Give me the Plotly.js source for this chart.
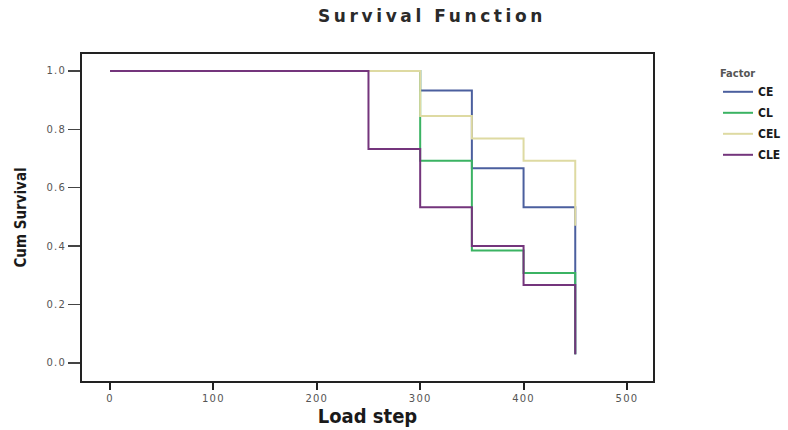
<!DOCTYPE html>
<html>
<head>
<meta charset="utf-8">
<script src="https://cdn.plot.ly/plotly-3.0.1.min.js"></script>
<style>
  html, body { margin: 0; padding: 0; background: #fff; }
  #chart { width: 788px; height: 430px; }
  .gtitle { letter-spacing: 3.6px; }
  .xtick text, .ytick text { letter-spacing: 1.2px; }
  .g-xtitle text, .g-ytitle text, .legendtext { font-stretch: condensed; }
</style>
</head>
<body>
<div id="chart"></div>
<script>
// Load steps at which survival changes
const loadSteps = [0, 250, 300, 350, 400, 450];
// Cumulative survival per factor
const seriesNames = ["CE", "CL", "CEL", "CLE"];
const survCE  = [1, 1, 0.933, 0.667, 0.533, 0.03];
const survCL  = [1, 1, 0.692, 0.385, 0.308, 0.03];
const survCEL = [1, 1, 0.846, 0.769, 0.692, 0.47];
const survCLE = [1, 0.733, 0.533, 0.400, 0.267, 0.03];
const xTicks = [0, 100, 200, 300, 400, 500];
const yTicks = [0.0, 0.2, 0.4, 0.6, 0.8, 1.0];

const colors = ["#4b5f9e", "#3bb363", "#dedaa2", "#74357c"];
const allSeries = [survCE, survCL, survCEL, survCLE];

const condensed = "'Liberation Sans Narrow', 'DejaVu Sans Condensed', 'Roboto Condensed', 'Arial Narrow', Roboto, 'Liberation Sans', sans-serif";

const traces = allSeries.map((ys, i) => ({
  type: "scatter",
  mode: "lines",
  name: seriesNames[i],
  legendgroup: seriesNames[i],
  x: loadSteps,
  y: ys,
  line: { shape: "hv", color: colors[i], width: 2 }
}));

const layout = {
  width: 788,
  height: 430,
  paper_bgcolor: "#ffffff",
  plot_bgcolor: "#ffffff",
  margin: { l: 82, r: 135, t: 54, b: 49 },
  title: {
    text: "Survival Function",
    font: { family: "DejaVu Sans", size: 17, color: "#2a2a2a", weight: "bold" },
    x: 432 / 788, xanchor: "center",
    y: 1 - 16 / 430, yanchor: "middle"
  },
  xaxis: {
    range: [-27.1, 525.2],
    tickvals: xTicks,
    ticktext: xTicks.map(String),
    ticks: "outside", ticklen: 7, tickwidth: 2, tickcolor: "#222",
    showline: true, linecolor: "#222", linewidth: 2, mirror: true,
    showgrid: false, zeroline: false,
    tickfont: { family: "DejaVu Sans", size: 10, color: "#555" },
    title: {
      text: "Load step",
      font: { family: condensed, size: 20, color: "#1a1a1a", weight: "bold" },
      standoff: 6
    }
  },
  yaxis: {
    range: [-0.062, 1.058],
    tickvals: yTicks,
    ticktext: yTicks.map(v => v.toFixed(1)),
    ticks: "outside", ticklen: 12, tickwidth: 1.5, tickcolor: "#444",
    showline: true, linecolor: "#222", linewidth: 2, mirror: true,
    showgrid: false, zeroline: false,
    tickfont: { family: "DejaVu Sans", size: 10, color: "#555" },
    title: {
      text: "Cum Survival",
      font: { family: condensed, size: 15, color: "#1a1a1a", weight: "bold" },
      standoff: 16
    }
  },
  showlegend: true,
  legend: {
    xref: "container", yref: "container",
    x: 718 / 788, xanchor: "left",
    y: 1 - 63 / 430, yanchor: "top",
    traceorder: "grouped",
    tracegroupgap: 2,
    bgcolor: "rgba(0,0,0,0)",
    font: { family: condensed, size: 12, color: "#1a1a1a", weight: "bold" },
    title: {
      text: "Factor",
      side: "top",
      font: { family: condensed, size: 11, color: "#555" }
    }
  }
};

Plotly.newPlot("chart", traces, layout, { displayModeBar: false, staticPlot: true });
</script>
</body>
</html>
